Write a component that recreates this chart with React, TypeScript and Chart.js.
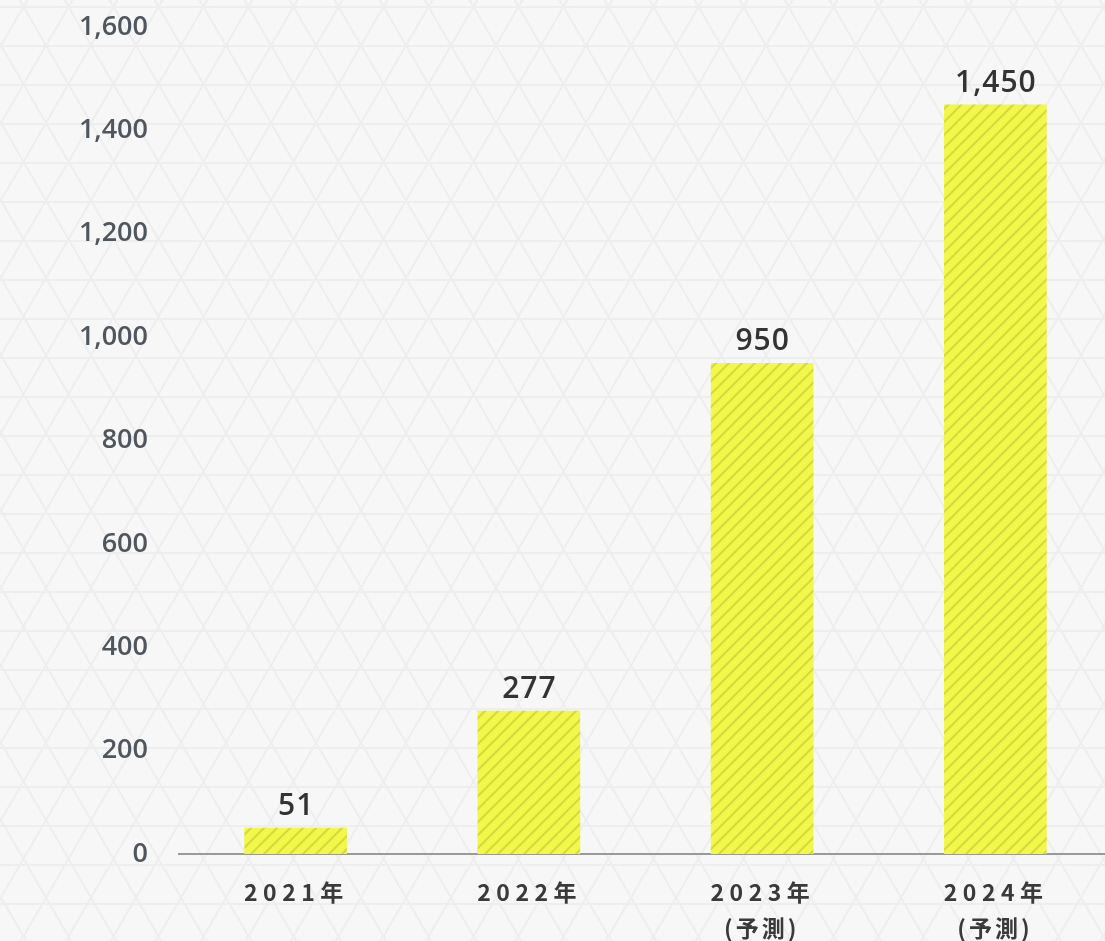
import React, { useEffect, useRef } from "react";
import { Chart, registerables } from "chart.js";

Chart.register(...registerables);

const categories: string[][] = [["2021年"], ["2022年"], ["2023年", "(予測)"], ["2024年", "(予測)"]];
const values: number[] = [51, 277, 950, 1450];
const yTicks: number[] = [0, 200, 400, 600, 800, 1000, 1200, 1400, 1600];

const CANVAS_W = 1112;
const CANVAS_H = 941;

function makeStripePattern(): CanvasPattern | string {
  const s = 13;
  const c = document.createElement("canvas");
  c.width = s;
  c.height = s;
  const g = c.getContext("2d");
  if (!g) return "#f2f84a";
  g.fillStyle = "#f2f84a";
  g.fillRect(0, 0, s, s);
  g.strokeStyle = "#d6da3c";
  g.lineWidth = 2.2;
  g.beginPath();
  g.moveTo(-2, s + 2);
  g.lineTo(s + 2, -2);
  g.moveTo(-2, 2);
  g.lineTo(2, -2);
  g.moveTo(s - 2, s + 2);
  g.lineTo(s + 2, s - 2);
  g.stroke();
  const p = g.createPattern(c, "repeat");
  return p || "#f2f84a";
}

const backgroundPlugin = {
  id: "latticeBg",
  beforeDraw(chart: any) {
    const ctx = chart.ctx as CanvasRenderingContext2D;
    const w = chart.width;
    const h = chart.height;
    ctx.save();
    ctx.fillStyle = "#f7f7f7";
    ctx.fillRect(0, 0, w, h);
    ctx.strokeStyle = "#eeeeee";
    ctx.lineWidth = 2;
    const rowH = 39;
    const half = 22.5;
    const y0 = 7;
    const x0 = 316;
    ctx.beginPath();
    for (let y = y0 - rowH; y < h + rowH; y += rowH) {
      ctx.moveTo(0, y);
      ctx.lineTo(w, y);
    }
    const span = (h + 2 * rowH) * (half / rowH);
    for (let k = -40; k < 60; k++) {
      const xs = x0 + k * 2 * half;
      const ytop = y0 - rowH;
      const ybot = h + rowH;
      ctx.moveTo(xs, ytop);
      ctx.lineTo(xs + span, ybot);
      ctx.moveTo(xs, ytop);
      ctx.lineTo(xs - span, ybot);
    }
    ctx.stroke();
    ctx.restore();
  },
};

const labelPlugin = {
  id: "customLabels",
  afterDatasetsDraw(chart: any) {
    const ctx = chart.ctx as CanvasRenderingContext2D;
    const meta = chart.getDatasetMeta(0);
    ctx.save();
    ctx.fillStyle = "#333333";
    ctx.font = "600 30px 'Open Sans', sans-serif";
    ctx.textAlign = "center";
    ctx.textBaseline = "alphabetic";
    (ctx as any).letterSpacing = "1px";
    meta.data.forEach((bar: any, i: number) => {
      ctx.fillText(values[i].toLocaleString("en-US"), bar.x + 0.5, bar.y - 13);
    });
    const xScale = chart.scales.x;
    ctx.fillStyle = "#3a3a3a";
    ctx.font = "700 23px 'Noto Sans CJK JP', sans-serif";
    ctx.textBaseline = "middle";
    categories.forEach((lines, i) => {
      const x = xScale.getPixelForTick(i);
      lines.forEach((line, j) => {
        const sp = j === 0 ? 5.5 : 3;
        (ctx as any).letterSpacing = sp + "px";
        ctx.fillText(line, x - 2 + sp / 2, 892 + j * 36);
      });
    });
    ctx.restore();
  },
};

export default function App() {
  const ref = useRef<HTMLCanvasElement | null>(null);
  useEffect(() => {
    if (!ref.current) return;
    const chart = new Chart(ref.current, {
      type: "bar",
      data: {
        labels: categories.map((c) => c.join(" ")),
        datasets: [
          {
            data: values,
            backgroundColor: makeStripePattern() as any,
            borderWidth: 0,
            categoryPercentage: 1,
            barPercentage: 0.44,
          },
        ],
      },
      options: {
        responsive: false,
        animation: false,
        layout: { padding: { top: 27, bottom: 87, left: 0, right: 0 } },
        plugins: { legend: { display: false }, tooltip: { enabled: false } },
        scales: {
          x: {
            grid: { display: false, drawTicks: false },
            border: { display: true, color: "#9a9a9a", width: 2 },
            ticks: { display: false },
          },
          y: {
            min: 0,
            max: 1600,
            afterBuildTicks: (scale: any) => {
              scale.ticks = yTicks.map((v) => ({ value: v }));
            },
            afterFit: (scale: any) => {
              scale.width = 179;
              scale.paddingTop = 0;
              scale.paddingBottom = 0;
            },
            grid: { display: false, drawTicks: false },
            border: { display: false },
            ticks: {
              padding: 31,
              color: "#50565d",
              font: { family: "'Open Sans', sans-serif", size: 27, weight: 600 },
              callback: (v: any) => Number(v).toLocaleString("en-US"),
            },
          },
        },
      },
      plugins: [backgroundPlugin, labelPlugin],
    });
    return () => chart.destroy();
  }, []);
  return (
    <div style={{ position: "fixed", left: 0, top: 0, width: 1105, height: 941, overflow: "hidden", background: "#f7f7f7" }}>
      <canvas ref={ref} width={CANVAS_W} height={CANVAS_H} style={{ display: "block", width: CANVAS_W, height: CANVAS_H }} />
    </div>
  );
}
